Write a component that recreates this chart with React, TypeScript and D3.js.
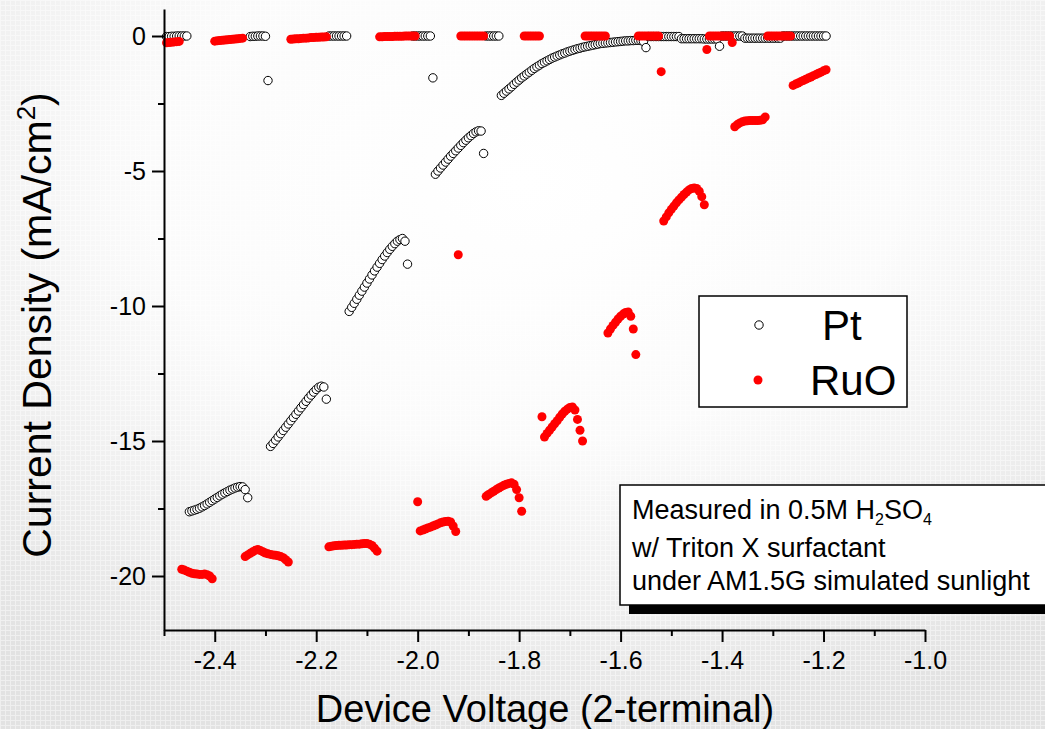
import React, { useEffect, useRef } from 'react';
import * as d3 from 'd3';

const STEP = 0.005; // sweep step of the J-V scan (V)

// chopped-light runs: [start voltage, current densities in mA/cm2]
const ptRuns: [number, number[]][] = [
    [-2.495, [-0.02, -0.02, -0.01, -0.01, 0, 0, 0, 0, 0]],
    [-2.45, [-17.62, -17.59, -17.56, -17.53, -17.49, -17.44, -17.39, -17.33, -17.27, -17.21, -17.15, -17.09, -17.03, -16.97, -16.92, -16.87, -16.82, -16.78, -16.74, -16.71, -16.69, -16.7, -16.8, -17.1]],
    [-2.33, [-0.02, -0.01, -0.01, 0, 0, 0, -0.01, -1.65]],
    [-2.29, [-15.2, -15.09, -14.97, -14.85, -14.73, -14.61, -14.49, -14.37, -14.25, -14.13, -14.01, -13.89, -13.77, -13.65, -13.53, -13.41, -13.3, -13.19, -13.09, -13.01, -12.97, -13.0, -13.45]],
    [-2.175, [0, 0, 0, 0, 0, 0, 0, 0]],
    [-2.135, [-10.2, -10.05, -9.9, -9.75, -9.6, -9.45, -9.3, -9.15, -9.0, -8.85, -8.7, -8.56, -8.42, -8.28, -8.15, -8.02, -7.9, -7.79, -7.69, -7.6, -7.54, -7.5, -7.6, -8.45]],
    [-2.01, [0, 0, 0, 0, 0, 0, 0, 0, -1.55]],
    [-1.965, [-5.12, -5.0, -4.89, -4.78, -4.67, -4.56, -4.45, -4.35, -4.25, -4.15, -4.05, -3.95, -3.86, -3.77, -3.69, -3.61, -3.55, -3.51, -3.52, -4.35]],
    [-1.865, [0, 0, 0, 0, 0, 0]],
    [-1.835, [-2.2, -2.12, -2.04, -1.96, -1.88, -1.79, -1.71, -1.63, -1.55, -1.48,
        -1.41, -1.34, -1.27, -1.2, -1.14, -1.08, -1.02, -0.97, -0.92, -0.87,
        -0.82, -0.78, -0.74, -0.7, -0.66, -0.63, -0.59, -0.56, -0.53, -0.5,
        -0.47, -0.45, -0.42, -0.4, -0.38, -0.36, -0.34, -0.32, -0.3, -0.28,
        -0.27, -0.26, -0.25, -0.24, -0.23, -0.22, -0.21, -0.2, -0.19, -0.18,
        -0.18, -0.17, -0.17, -0.16, -0.16, -0.17, -0.2, -0.43]],
    [-1.545, [-0.02, -0.02, -0.02, -0.02, -0.02, -0.02, -0.02, -0.02, -0.02, -0.02, -0.02, -0.02, -0.02]],
    [-1.48, [-0.1, -0.1, -0.1, -0.1, -0.1, -0.1, -0.1, -0.1, -0.1, -0.11, -0.11, -0.11, -0.11, -0.11, -0.11, -0.38]],
    [-1.4, [0, 0, 0, 0, 0, 0, 0, 0, 0]],
    [-1.355, [-0.08, -0.08, -0.08, -0.08, -0.08, -0.08, -0.08, -0.08, -0.08, -0.08, -0.08, -0.08, -0.08, -0.08, -0.08]],
    [-1.28, [0, 0, 0, 0, 0, 0, 0, 0, 0, 0, 0, 0, 0, 0, 0, 0, 0, 0]],
];

const ruoRuns: [number, number[]][] = [
    [-2.495, [-0.25, -0.24, -0.23, -0.22, -0.21, -0.2]],
    [-2.465, [-19.75, -19.78, -19.82, -19.86, -19.9, -19.92, -19.93, -19.94, -19.94, -19.93, -19.95, -20.0, -20.1]],
    [-2.4, [-0.19, -0.18, -0.17, -0.16, -0.15, -0.14, -0.13, -0.12, -0.11, -0.1, -0.09, -0.08]],
    [-2.34, [-19.28, -19.22, -19.16, -19.1, -19.05, -19.02, -19.06, -19.1, -19.15, -19.18, -19.2, -19.22, -19.23, -19.25, -19.28, -19.32, -19.4, -19.48]],
    [-2.25, [-0.12, -0.11, -0.1, -0.1, -0.09, -0.08, -0.08, -0.07, -0.06, -0.06, -0.05, -0.05, -0.04, -0.04, -0.03]],
    [-2.175, [-18.92, -18.9, -18.88, -18.87, -18.86, -18.86, -18.85, -18.85, -18.84, -18.84, -18.83, -18.82, -18.82, -18.81, -18.8, -18.8, -18.82, -18.87, -18.97, -19.08]],
    [-2.075, [-0.03, -0.03, -0.02, -0.02, -0.02, -0.02, -0.01, -0.01, -0.01, -0.01, 0, 0, 0, 0, 0, -17.25]],
    [-1.995, [-18.33, -18.3, -18.26, -18.22, -18.19, -18.15, -18.11, -18.07, -18.03, -18.0, -17.98, -17.97, -18.0, -18.15, -18.35, -8.1]],
    [-1.915, [0, 0, 0, 0, 0, 0, 0, 0, 0, 0]],
    [-1.865, [-17.05, -16.98, -16.92, -16.86, -16.8, -16.74, -16.69, -16.64, -16.6, -16.57, -16.55, -16.6, -16.8, -17.1, -17.6]],
    [-1.79, [0, 0, 0, 0, 0, 0, 0, -14.1]],
    [-1.75, [-14.85, -14.72, -14.6, -14.48, -14.36, -14.25, -14.12, -14.0, -13.9, -13.82, -13.76, -13.74, -13.85, -14.2, -14.6, -15.0]],
    [-1.67, [0, 0, 0, 0, 0, 0, 0, 0, 0]],
    [-1.625, [-11.0, -10.85, -10.72, -10.6, -10.48, -10.38, -10.3, -10.24, -10.22, -10.38, -10.85, -11.8]],
    [-1.565, [0, 0, 0, 0, 0, 0, 0, 0, 0, -1.32]],
    [-1.515, [-6.85, -6.7, -6.55, -6.42, -6.3, -6.18, -6.07, -5.97, -5.87, -5.78, -5.7, -5.65, -5.63, -5.65, -5.75, -5.95, -6.25]],
    [-1.43, [-0.5, 0, 0, 0, 0, 0, 0, 0, 0, 0, -0.24]],
    [-1.375, [-3.36, -3.28, -3.22, -3.18, -3.15, -3.14, -3.13, -3.13, -3.13, -3.13, -3.12, -3.1, -3.0]],
    [-1.31, [0, 0, 0, 0, 0, 0, 0, 0, 0, 0]],
    [-1.26, [-1.83, -1.78, -1.74, -1.69, -1.65, -1.6, -1.56, -1.52, -1.47, -1.43, -1.38, -1.34, -1.29, -1.25]],
];

const xMajor = [-2.4, -2.2, -2.0, -1.8, -1.6, -1.4, -1.2, -1.0];
const xMinor = [-2.5, -2.3, -2.1, -1.9, -1.7, -1.5, -1.3, -1.1];
const yMajor = [0, -5, -10, -15, -20];
const yMinor = [-2.5, -7.5, -12.5, -17.5];
const seriesNames = ['Pt', 'RuO'];

const W = 1045;
const H = 729;
const FONT = '"Liberation Sans", Arial, sans-serif';

const flatten = (runs: [number, number[]][]) =>
    runs.flatMap(([v0, js]) => js.map((j, i) => ({ v: v0 + i * STEP, j })));

export default function App() {
    const axesRef = useRef<SVGGElement | null>(null);

    const x = d3.scaleLinear().domain([-2.5, -1.0]).range([164, 925]);
    const y = d3.scaleLinear().domain([-22, 1]).range([630, 9]);

    const pt = flatten(ptRuns);
    const ruo = flatten(ruoRuns);

    useEffect(() => {
        document.body.style.margin = '0';
        const g = d3.select(axesRef.current);
        g.selectAll('*').remove();

        const xg = g.append('g').attr('transform', `translate(0,${y(-22)})`);
        xg.call(
            d3.axisBottom(x).tickValues(xMajor).tickSize(12).tickSizeOuter(0).tickPadding(9)
                .tickFormat((d: any) => d.toFixed(1))
        );
        xg.append('g').call(d3.axisBottom(x).tickValues(xMinor).tickSize(6).tickSizeOuter(0).tickFormat(() => ''))
            .select('.domain').remove();

        const yg = g.append('g').attr('transform', `translate(${x(-2.5)},0)`);
        yg.call(
            d3.axisLeft(y).tickValues(yMajor).tickSize(12).tickSizeOuter(0).tickPadding(6)
                .tickFormat((d: any) => String(d))
        );
        yg.append('g').call(d3.axisLeft(y).tickValues(yMinor).tickSize(6).tickSizeOuter(0).tickFormat(() => ''))
            .select('.domain').remove();

        g.selectAll('.domain').attr('stroke', '#000').attr('stroke-width', 2);
        g.selectAll('.tick line').attr('stroke', '#000').attr('stroke-width', 2);
        g.selectAll('.tick text').attr('fill', '#000').style('font-family', FONT).style('font-size', '25px');
    }, []);

    return (
        <svg width={W} height={H} style={{ position: 'absolute', left: 0, top: 0 }}>
            <defs>
                <radialGradient id="bg" cx="50%" cy="25%" r="80%">
                    <stop offset="0%" stopColor="#ffffff" />
                    <stop offset="45%" stopColor="#fbfbfb" />
                    <stop offset="100%" stopColor="#e2e2e2" />
                </radialGradient>
                <pattern id="tex" width="5" height="5" patternUnits="userSpaceOnUse">
                    <path d="M0 0.5H5M0.5 0V5" stroke="#ffffff" strokeWidth={1} opacity={0.45} />
                </pattern>
            </defs>
            <rect width={W} height={H} fill="url(#bg)" />
            <rect width={W} height={H} fill="url(#tex)" />

            <g>
                {pt.map((d, i) => (
                    <circle key={'p' + i} cx={x(d.v)} cy={y(d.j)} r={4.2} fill="#fff" stroke="#000" strokeWidth={1} />
                ))}
            </g>
            <g>
                {ruo.map((d, i) => (
                    <circle key={'r' + i} cx={x(d.v)} cy={y(d.j)} r={4.5} fill="#ff0000" />
                ))}
            </g>

            <g ref={axesRef} />

            <text
                transform={`translate(51,325) rotate(-90)`}
                textAnchor="middle"
                style={{ fontFamily: FONT, fontSize: 41 }}
            >
                Current Density (mA/cm
                <tspan fontSize={26} dy={-16}>2</tspan>
                <tspan dy={16}>)</tspan>
            </text>
            <text x={545} y={722} textAnchor="middle" style={{ fontFamily: FONT, fontSize: 38 }}>
                Device Voltage (2-terminal)
            </text>

            <g>
                <rect x={699} y={296} width={208} height={111} fill="#fff" stroke="#000" strokeWidth={1.5} />
                <circle cx={759} cy={325} r={4.2} fill="#fff" stroke="#000" strokeWidth={1} />
                <circle cx={758} cy={380} r={4.5} fill="#ff0000" />
                <text x={822} y={340} style={{ fontFamily: FONT, fontSize: 42 }}>{seriesNames[0]}</text>
                <text x={810} y={395} style={{ fontFamily: FONT, fontSize: 42 }}>{seriesNames[1]}</text>
            </g>

            <g style={{ fontFamily: FONT, fontSize: 27 }}>
                <rect x={629} y={494} width={440} height={120} fill="#000" />
                <rect x={620} y={485} width={440} height={120} fill="#fff" stroke="#000" strokeWidth={1.5} />
                <text x={632} y={519}>
                    Measured in 0.5M H<tspan fontSize={16} dy={6}>2</tspan>
                    <tspan dy={-6}>SO</tspan>
                    <tspan fontSize={16} dy={6}>4</tspan>
                </text>
                <text x={632} y={557}>w/ Triton X surfactant</text>
                <text x={632} y={590}>under AM1.5G simulated sunlight</text>
            </g>
        </svg>
    );
}
